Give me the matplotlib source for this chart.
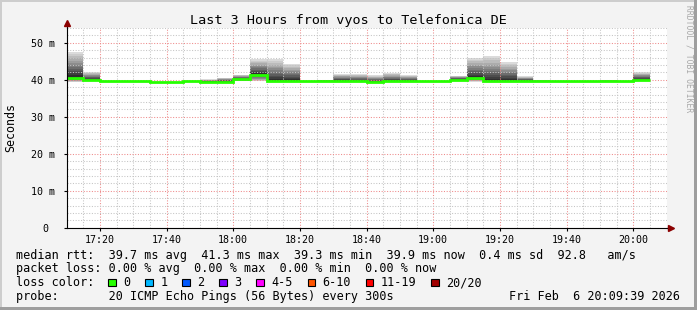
import matplotlib
import numpy as np

matplotlib.use("Agg")
import matplotlib.pyplot as plt  # noqa: E402
from matplotlib.patches import Rectangle  # noqa: E402
from matplotlib.ticker import FixedLocator, MultipleLocator  # noqa: E402

W, H, DPI = 697, 310, 100
plt.rcParams["font.family"] = ["DejaVu Sans Mono"]

# --------------------------------------------------------------------------- #
# data: 5-minute bins, round trip times in milliseconds
# --------------------------------------------------------------------------- #
bin_start = ["17:10", "17:15", "17:20", "17:25", "17:30", "17:35", "17:40",
             "17:45", "17:50", "17:55", "18:00", "18:05", "18:10", "18:15",
             "18:20", "18:25", "18:30", "18:35", "18:40", "18:45", "18:50",
             "18:55", "19:00", "19:05", "19:10", "19:15", "19:20", "19:25",
             "19:30", "19:35", "19:40", "19:45", "19:50", "19:55", "20:00"]
median_ms = [40.6, 40.0, 39.7, 39.7, 39.7, 39.4, 39.4,
             39.7, 39.5, 39.5, 40.1, 41.4, 39.7, 39.7,
             39.7, 39.7, 39.7, 39.6, 39.3, 39.6, 39.7,
             39.7, 39.7, 40.0, 40.5, 39.8, 39.7, 39.7,
             39.7, 39.7, 39.7, 39.7, 39.7, 39.7, 40.0]
smoke_lo_ms = [39.4, 39.6, 39.6, 39.6, 39.6, 39.3, 39.3,
               39.6, 39.4, 39.4, 39.6, 39.6, 39.6, 39.6,
               39.6, 39.6, 39.5, 39.4, 39.2, 39.4, 39.5,
               39.6, 39.6, 39.6, 39.5, 39.6, 39.6, 39.6,
               39.6, 39.6, 39.6, 39.6, 39.6, 39.6, 39.6]
smoke_hi_ms = [47.5, 42.1, 39.8, 39.8, 39.8, 39.5, 39.5,
               39.8, 40.1, 40.6, 41.4, 45.5, 45.5, 44.3,
               39.8, 40.0, 41.5, 41.5, 41.2, 41.8, 41.2,
               39.8, 39.8, 41.1, 45.9, 46.3, 44.7, 40.9,
               39.9, 39.8, 39.8, 39.8, 39.9, 39.8, 42.0]

time_ticks = ["17:20", "17:40", "18:00", "18:20", "18:40", "19:00",
              "19:20", "19:40", "20:00"]
rtt_ticks = [0, 10, 20, 30, 40, 50]
rtt_tick_labels = ["0 ", "10 m", "20 m", "30 m", "40 m", "50 m"]

title = "Last 3 Hours from vyos to Telefonica DE"
rtt_stats = ["39.7 ms avg", "41.3 ms max", "39.3 ms min", "39.9 ms now", "0.4 ms sd"]
rtt_am = "92.8"
loss_stats = ["0.00 % avg", "0.00 % max", "0.00 % min", "0.00 % now"]
loss_labels = ["0", "1", "2", "3", "4-5", "6-10", "11-19", "20/20"]
loss_colors = ["#26ff00", "#00b8ff", "#0059ff", "#7e00ff", "#ff00ff",
               "#ff5500", "#ff0000", "#a10000"]
probe_text = "20 ICMP Echo Pings (56 Bytes) every 300s"
stamp = "Fri Feb  6 20:09:39 2026"

GREEN = loss_colors[0]
PX_PER_MS = 3.7


def minutes(hhmm):
    h, m = hhmm.split(":")
    return int(h) * 60 + int(m)


def fx(x):
    return x / W


def fy(y):
    return 1 - y / H


def rect_px(fig, x, y, w, h, color, **kw):
    fig.add_artist(Rectangle((fx(x), fy(y + h)), w / W, h / H, transform=fig.transFigure,
                             facecolor=color, **kw))


fig = plt.figure(figsize=(W / DPI, H / DPI), dpi=DPI, facecolor="#f3f3f3")

# frame (rrdtool shade a / shade b)
rect_px(fig, 0, 0, W, 2, "#cdcdcd", linewidth=0)
rect_px(fig, 0, 0, 2, H, "#cdcdcd", linewidth=0)
rect_px(fig, 0, H - 3, W, 3, "#9e9e9e", linewidth=0)
rect_px(fig, W - 3, 0, 3, H, "#9e9e9e", linewidth=0)

ax = fig.add_axes([fx(66.5), fy(227.8), 600 / W, 200 / H])
ax.set_facecolor("white")
t0 = minutes("17:10")
ax.set_xlim(t0, t0 + 180)
ax.set_ylim(0, 200 / PX_PER_MS)

# smoke: nested bands, light outside, dark toward the median
x = np.array([minutes(t) for t in bin_start], dtype=float)
med = np.array(median_ms)
lo = np.array(smoke_lo_ms)
hi = np.array(smoke_hi_ms)
n_layers = 12
for k in range(n_layers):
    f = 1 - k / n_layers
    bottom = med - (med - lo) * f
    top = med + (hi - med) * f
    grey = 0.86 - 0.68 * k / (n_layers - 1)
    ax.bar(x, top - bottom, width=5, bottom=bottom, align="edge",
           color=str(grey), linewidth=0, zorder=2)

# grid on top of the smoke, as rrdtool does
ax.xaxis.set_major_locator(FixedLocator([minutes(t) for t in time_ticks]))
ax.xaxis.set_minor_locator(MultipleLocator(5))
ax.set_xticklabels(time_ticks)
ax.yaxis.set_major_locator(FixedLocator(rtt_ticks))
ax.yaxis.set_minor_locator(MultipleLocator(2))
ax.set_yticklabels(rtt_tick_labels)
ax.grid(which="minor", color="#c4c4c4", lw=0.75, ls=(0, (1, 1.6)), zorder=3)
ax.grid(which="major", color="#ee8a8a", lw=0.75, ls=(0, (1, 1.6)), zorder=3)
ax.set_axisbelow(False)

# median line
edges = np.append(x, x[-1] + 5)
ax.stairs(med, edges, baseline=None, color=GREEN, lw=2.0, zorder=5)

for side in ("top", "right"):
    ax.spines[side].set_visible(False)
for side in ("left", "bottom"):
    ax.spines[side].set_linewidth(0.8)
    ax.spines[side].set_zorder(6)
ax.tick_params(which="major", direction="out", length=2.5, width=0.8,
               labelsize=7.2, colors="black")
ax.tick_params(axis="x", pad=3)
ax.tick_params(axis="y", pad=6)
ax.tick_params(which="minor", length=0)

# axis arrows
ax.plot([0, 0], [1, 1.03], transform=ax.transAxes, color="black", lw=0.8, clip_on=False)
ax.plot([0], [1.024], transform=ax.transAxes, marker="^", ms=4, color="#8b0000",
        clip_on=False, zorder=7)
ax.plot([1, 1.01], [0, 0], transform=ax.transAxes, color="black", lw=0.8, clip_on=False)
ax.plot([1.007], [0], transform=ax.transAxes, marker=">", ms=4, color="#8b0000",
        clip_on=False, zorder=7)

# texts
fig.text(fx(348), fy(24), title, ha="center", va="baseline", fontsize=9.7)
fig.text(fx(11), fy(127.5), "Seconds", ha="center", va="center", rotation=90, fontsize=8.4)
fig.text(fx(688.5), fy(59), "RRDTOOL / TOBI OETIKER", ha="center", va="center",
         rotation=270, fontsize=5.8, color="#a8a8a8")

LEG = 8.5
line1 = "median rtt:  " + "  ".join(rtt_stats) + "  " + rtt_am + "   am/s"
line2 = "packet loss: " + "  ".join(loss_stats)
line4 = "probe:       " + probe_text
fig.text(fx(16), fy(258.5), line1, ha="left", va="baseline", fontsize=LEG)
fig.text(fx(16), fy(272), line2, ha="left", va="baseline", fontsize=LEG)
fig.text(fx(16), fy(286.3), "loss color:", ha="left", va="baseline", fontsize=LEG)
fig.text(fx(16), fy(299.8), line4, ha="left", va="baseline", fontsize=LEG)
fig.text(fx(680), fy(299.8), stamp, ha="right", va="baseline", fontsize=LEG)

sq_x = 108.3
for label, color in zip(loss_labels, loss_colors):
    rect_px(fig, sq_x, 278.5, 7.3, 7.3, color, edgecolor="black", linewidth=0.8)
    fig.text(fx(sq_x + 15), fy(286.3), label, ha="left", va="baseline", fontsize=LEG)
    sq_x += 29.9 + 7.1 * len(label)

fig.savefig("out.png", dpi=DPI, facecolor=fig.get_facecolor())
